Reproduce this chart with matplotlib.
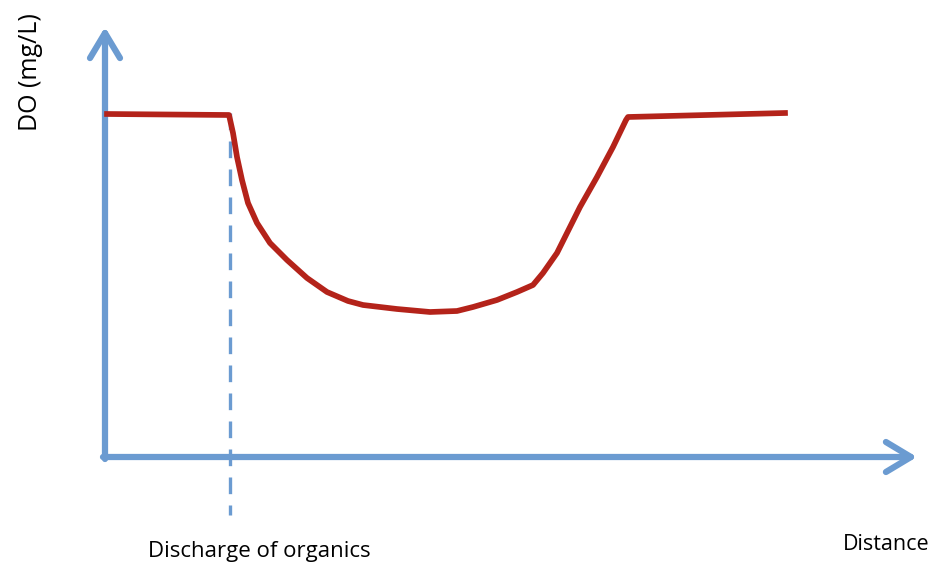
"""
DO sag curve after an organic discharge (schematic)
"""

import matplotlib.pyplot as plt

# curve (arbitrary units, origin at the axes corner)
distance = [2, 124, 128, 132, 137, 143, 152, 165, 182, 202, 222, 243, 258, 292,
            325, 352, 368, 392, 412, 428, 438, 452, 465, 475, 492, 508, 521, 523, 680]
do_level = [343, 342, 324, 300, 277, 254, 234, 214, 197, 179, 165, 156, 152, 148,
            145, 146, 150, 157, 165, 172, 184, 204, 230, 250, 280, 310, 337, 340, 344]

discharge_at = 125
x_label = "Distance"
y_label = "DO (mg/L)"
discharge_label = "Discharge of organics"

blue = "#6b9bd1"
red = "#b4231a"

plt.rcParams['font.family'] = ['Open Sans', 'DejaVu Sans']

fig = plt.figure(figsize=(9.35, 5.65), dpi=100)
ax = fig.add_axes([0, 0, 1, 1])
ax.set_xlim(-105, 830)
ax.set_ylim(-108, 457)
ax.axis('off')

# axes with open arrow heads
arrow = dict(arrowstyle='->,head_length=1.0,head_width=0.6', lw=4.5, color=blue,
             mutation_scale=18, shrinkA=0, shrinkB=0, capstyle='round')
ax.annotate('', xy=(0, 430), xytext=(0, -2), arrowprops=arrow)
ax.annotate('', xy=(812, 0), xytext=(-2, 0), arrowprops=arrow)

# discharge point
ax.plot([discharge_at, discharge_at], [344, -58], color=blue, lw=2.4,
        linestyle=(0, (5, 3.4)), zorder=1)

# DO profile
ax.plot(distance, do_level, color=red, lw=4.1, solid_joinstyle='round', zorder=3)

ax.text(154, -100, discharge_label, fontsize=16, ha='center', va='baseline')
ax.text(781, -93, x_label, fontsize=15.5, ha='center', va='baseline')
ax.text(-68, 385, y_label, fontsize=18, rotation=90, rotation_mode='anchor',
        ha='center', va='baseline')

fig.savefig('out.png', dpi=100)
